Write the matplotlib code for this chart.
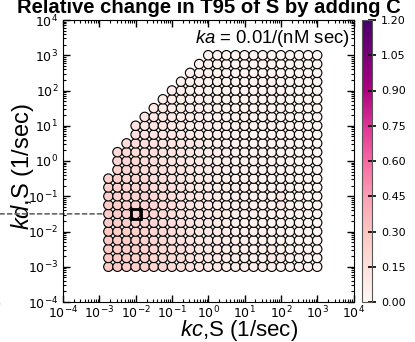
import numpy as np
import matplotlib
matplotlib.use('Agg')
import matplotlib.pyplot as plt
from matplotlib.ticker import LogLocator, NullFormatter

plt.rcParams['font.family'] = ['DejaVu Sans']
plt.rcParams['mathtext.fontset'] = 'custom'
plt.rcParams['mathtext.rm'] = 'Liberation Sans'
plt.rcParams['mathtext.it'] = 'Liberation Sans:italic'

n = np.nan

# log10 of kc,S (columns) and kd,S (rows)
kc_exp = [-2.75, -2.5, -2.25, -2.0, -1.75, -1.5, -1.25, -1.0, -0.75, -0.5, -0.25, 0.0,
          0.25, 0.5, 0.75, 1.0, 1.25, 1.5, 1.75, 2.0, 2.25, 2.5, 2.75, 3.0]
kd_exp = [-3.0, -2.75, -2.5, -2.25, -2.0, -1.75, -1.5, -1.25, -1.0, -0.75, -0.5, -0.25,
          0.0, 0.25, 0.5, 0.75, 1.0, 1.25, 1.5, 1.75, 2.0, 2.25, 2.5, 2.75, 3.0]

# relative change in T95, one row per kd value (bottom to top)
rel_change = [
    [.28, .27, .26, .25, .23, .21, .20, .18, .16, .14, .12, .11, .09, .08, .07, .06, .05, .04, .04, .03, .03, .02, .02, .02],
    [.28, .27, .26, .24, .23, .21, .19, .17, .16, .14, .12, .11, .09, .08, .07, .06, .05, .04, .09, .08, .03, .02, .02, .02],
    [.27, .26, .25, .24, .22, .21, .19, .17, .16, .14, .12, .10, .09, .07, .07, .06, .05, .04, .08, .03, .03, .02, .02, .02],
    [.27, .26, .25, .24, .22, .21, .19, .17, .15, .13, .12, .10, .09, .07, .07, .06, .05, .04, .03, .03, .02, .02, .02, .02],
    [.27, .26, .25, .23, .22, .20, .19, .16, .15, .13, .11, .10, .08, .07, .06, .06, .04, .04, .03, .03, .02, .02, .02, .01],
    [.26, .25, .25, .23, .21, .20, .18, .16, .15, .13, .11, .10, .08, .07, .06, .05, .04, .04, .03, .03, .02, .02, .02, .01],
    [.26, .25, .24, .23, .21, .20, .18, .16, .15, .13, .11, .10, .08, .07, .06, .05, .04, .04, .03, .03, .02, .02, .01, .01],
    [.25, .25, .24, .22, .21, .20, .18, .16, .14, .12, .11, .09, .08, .07, .06, .05, .04, .03, .03, .10, .02, .02, .01, .01],
    [.25, .24, .23, .22, .21, .19, .17, .16, .14, .12, .11, .09, .08, .07, .06, .05, .04, .03, .03, .10, .02, .02, .01, .01],
    [.24, .24, .22, .21, .20, .18, .16, .15, .13, .11, .10, .09, .07, .07, .06, .05, .04, .03, .03, .02, .02, .02, .01, .01],
    [.24, .23, .21, .20, .19, .17, .16, .14, .12, .11, .10, .08, .07, .07, .05, .04, .03, .03, .02, .02, .02, .02, .01, .01],
    [n, .22, .21, .20, .18, .16, .15, .13, .12, .11, .09, .08, .07, .06, .05, .04, .03, .03, .02, .02, .02, .01, .01, .01],
    [n, .21, .20, .19, .17, .16, .14, .13, .11, .10, .09, .07, .07, .06, .05, .04, .03, .03, .02, .02, .02, .01, .01, .01],
    [n, .18, .18, .17, .16, .15, .13, .12, .11, .10, .08, .07, .07, .06, .05, .04, .03, .03, .02, .02, .02, .01, .01, .01],
    [n, n, .16, .16, .15, .14, .12, .11, .10, .09, .08, .07, .06, .05, .04, .03, .03, .02, .02, .02, .02, .01, .01, .01],
    [n, n, n, .15, .14, .12, .11, .11, .09, .08, .07, .07, .06, .05, .04, .03, .02, .02, .02, .02, .02, .01, .01, .01],
    [n, n, n, .13, .12, .11, .11, .10, .09, .07, .07, .06, .05, .04, .04, .03, .02, .02, .02, .02, .01, .01, .01, .01],
    [n, n, n, n, .11, .10, .09, .08, .07, .07, .06, .05, .05, .04, .03, .03, .02, .02, .02, .02, .01, .01, .01, .01],
    [n, n, n, n, n, .09, .08, .07, .07, .06, .06, .05, .04, .03, .03, .02, .02, .02, .02, .02, .01, .01, .01, .01],
    [n, n, n, n, n, n, .07, .07, .07, .06, .05, .04, .04, .03, .03, .02, .02, .02, .02, .02, .01, .01, .01, .01],
    [n, n, n, n, n, n, n, .06, .06, .05, .04, .04, .03, .03, .02, .02, .02, .02, .02, .02, .01, .01, .01, .01],
    [n, n, n, n, n, n, n, n, .05, .04, .04, .03, .03, .02, .02, .02, .02, .02, .02, .01, .01, .01, .01, .01],
    [n, n, n, n, n, n, n, n, n, .04, .03, .03, .02, .02, .02, .02, .02, .02, .02, .01, .01, .01, .01, .01],
    [n, n, n, n, n, n, n, n, n, n, .03, .02, .02, .02, .02, .02, .02, .02, .01, .01, .01, .01, .01, .01],
    [n, n, n, n, n, n, n, n, n, n, n, .02, .02, .02, .02, .02, .02, .01, .01, .01, .01, .01, .01, .01],
]

sel_kc = 1e-2
sel_kd = 10 ** -1.5
cbar_ticks = [0.0, 0.15, 0.30, 0.45, 0.60, 0.75, 0.90, 1.05, 1.20]

kc, kd = np.meshgrid(10.0 ** np.array(kc_exp), 10.0 ** np.array(kd_exp))
vals = np.array(rel_change)
ok = ~np.isnan(vals)

fig = plt.figure(figsize=(4.15, 3.42), dpi=100)
ax = fig.add_axes([63 / 415, 40 / 342, 290.5 / 415, 282 / 342])
sc = ax.scatter(kc[ok], kd[ok], c=vals[ok], cmap='RdPu', vmin=0, vmax=1.2,
                s=46, edgecolors='k', linewidths=0.8, zorder=3)
ax.plot([sel_kc], [sel_kd], 's', ms=6.5, mfc='none', mec='k', mew=2, zorder=4)
ax.annotate('', xy=(sel_kc, sel_kd), xycoords='data',
            xytext=(0, sel_kd), textcoords=('figure fraction', 'data'),
            arrowprops=dict(arrowstyle='-', linestyle=(0, (2.5, 2)), color='#666666',
                            lw=1.2, shrinkA=0, shrinkB=4), zorder=2)

ax.set_xscale('log')
ax.set_yscale('log')
ax.set_xlim(1e-4, 1e4)
ax.set_ylim(1e-4, 1e4)
for axis in (ax.xaxis, ax.yaxis):
    axis.set_major_locator(LogLocator(base=10, numticks=20))
    axis.set_minor_locator(LogLocator(base=10, subs=np.arange(2, 10), numticks=20))
    axis.set_minor_formatter(NullFormatter())
ax.tick_params(which='both', direction='in', top=True, right=True, labelsize=9)
ax.tick_params(axis='x', pad=2)
ax.tick_params(which='major', length=5, width=1)
ax.tick_params(which='minor', length=2.5, width=0.8)

ax.set_xlabel(r'$\mathit{kc}$,S (1/sec)', fontsize=16, family='Liberation Sans')
ax.xaxis.set_label_coords(0.606, -0.056)
ax.set_ylabel(r'$\mathit{kd}$,S (1/sec)', fontsize=17, family='Liberation Sans')
ax.yaxis.set_label_coords(-0.092, 0.48)
ax.text(0.988, 0.933, r'$\mathit{ka}$ = 0.01/(nM sec)', transform=ax.transAxes,
        ha='right', va='center', fontsize=13.3, family='Liberation Sans')

cax = fig.add_axes([362 / 415, 40 / 342, 10 / 415, 282 / 342])
cb = fig.colorbar(sc, cax=cax, ticks=cbar_ticks, format='%.2f')
cb.outline.set_edgecolor('#555555')
cax.tick_params(direction='inout', length=6, width=1.2, labelsize=8)

fig.text(209 / 415, 1 - 13 / 342, 'Relative change in T95 of S by adding C',
         ha='center', va='baseline', fontsize=14.6, fontweight='bold',
         family='Liberation Sans')
fig.text(-0.018, 0.1, '0', fontsize=9)

fig.savefig('out.png', dpi=100)
